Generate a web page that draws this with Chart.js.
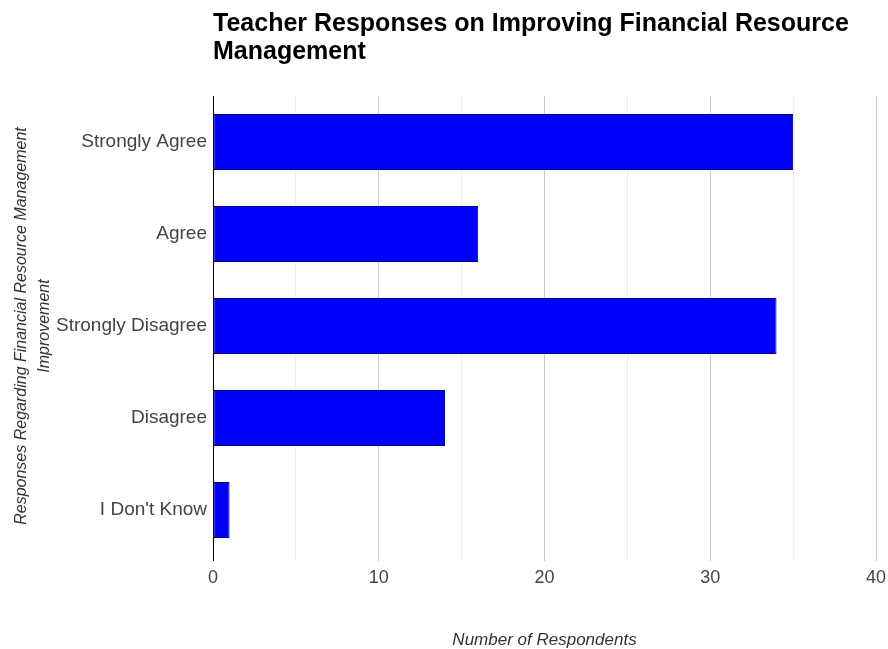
<!DOCTYPE html>
<html>
<head>
<meta charset="utf-8">
<script src="https://cdn.jsdelivr.net/npm/chart.js@4"></script>
<style>
  html, body { margin: 0; padding: 0; background: #fff; }
  #wrap { width: 888px; height: 649px; }
</style>
</head>
<body>
<div id="wrap"><canvas id="canvas" width="888" height="649"></canvas></div>
<script>
var categories = ["Strongly Agree", "Agree", "Strongly Disagree", "Disagree", "I Don't Know"];
var respondents = [35, 16, 34, 14, 1];
var xTicks = [0, 10, 20, 30, 40];

var font = "'Liberation Sans', Arial, sans-serif";

const ctx = document.getElementById('canvas').getContext('2d');
const myChart = new Chart(ctx, {
    type: 'bar',
    data: {
        labels: categories,
        datasets: [{
            label: 'Number of Respondents',
            data: respondents,
            backgroundColor: '#0000ff',
            borderColor: '#00008a',
            borderWidth: 1,
            borderSkipped: false,
            categoryPercentage: 0.61,
            barPercentage: 1
        }]
    },
    options: {
        indexAxis: 'y',
        responsive: false,
        animation: false,
        layout: { padding: { left: 0, right: 12, top: 0, bottom: 0 } },
        scales: {
            x: {
                min: 0,
                max: 40,
                afterBuildTicks: function(axis) {
                    // ticks every 5 so the minor grid lines show
                    var t = [];
                    for (var v = 0; v <= 40; v += 5) t.push({ value: v });
                    axis.ticks = t;
                },
                afterFit: function(axis) {
                    axis.height = 93;
                    axis.paddingRight = 0;
                },
                ticks: {
                    color: '#444',
                    font: { family: font, size: 18 },
                    padding: 6,
                    maxRotation: 0,
                    callback: function(v) { return xTicks.indexOf(v) >= 0 ? String(v) : ''; }
                },
                grid: {
                    color: function(c) {
                        if (c.tick.value === 0) return '#000';
                        return c.tick.value % 10 === 0 ? '#cccccc' : '#ebebeb';
                    },
                    tickLength: 5
                },
                border: { display: false },
                title: {
                    display: true,
                    text: 'Number of Respondents',
                    color: '#333',
                    font: { family: font, size: 17, style: 'italic' },
                    padding: { top: 0, bottom: -1 }
                }
            },
            y: {
                afterFit: function(axis) { axis.width = 213; },
                ticks: {
                    color: '#444',
                    font: { family: font, size: 19 },
                    padding: 6
                },
                grid: { display: false, drawTicks: false },
                border: { display: false },
                title: {
                    display: true,
                    text: ['Responses Regarding Financial Resource Management', 'Improvement'],
                    color: '#333',
                    font: { family: font, size: 16, style: 'italic', lineHeight: 1.45 },
                    padding: { top: 10, bottom: 0 }
                }
            }
        },
        plugins: {
            legend: { display: false },
            tooltip: { enabled: false },
            title: {
                display: true,
                fullSize: false,
                align: 'start',
                text: ['Teacher Responses on Improving Financial Resource', 'Management'],
                color: '#000',
                font: { family: font, size: 25, weight: 'bold', lineHeight: 1.12 },
                padding: { top: 10, bottom: 30 }
            }
        }
    }
});
</script>
</body>
</html>
